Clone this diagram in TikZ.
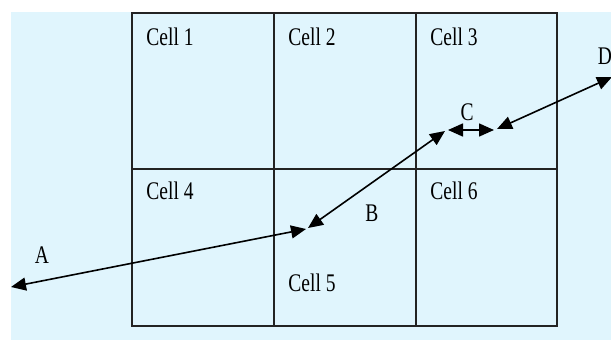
\documentclass[tikz,border=0pt]{standalone}
\usepackage{fontspec}
\setmainfont{Liberation Serif}
\usepackage{graphicx}
\usetikzlibrary{arrows.meta}
\definecolor{bgblue}{RGB}{224,245,253}
\definecolor{gridc}{RGB}{35,35,35}
\newcommand{\tallt}[1]{\scalebox{1}[1.3]{#1}}
\tikzset{
  lbl/.style={inner sep=0pt, font=\fontsize{19.5}{20}\selectfont},
  dbl/.style={line width=1.6pt, {Triangle[length=15pt,width=13pt]}-{Triangle[length=15pt,width=13pt]}},
  gridline/.style={draw=gridc, line width=1.8pt}
}
\begin{document}
\begin{tikzpicture}[x=1pt,y=-1pt]
\useasboundingbox (0,0) rectangle (611,340);
\fill[bgblue] (11,12) rectangle (611,340);
\draw[gridline] (132,13) rectangle (557,326);
\draw[gridline] (274,13) -- (274,326);
\draw[gridline] (416,13) -- (416,326);
\draw[gridline] (132,169) -- (557,169);
\node[lbl] (c1) at (170,37) {\tallt{Cell 1}};
\node[lbl] (c2) at (312,37) {\tallt{Cell 2}};
\node[lbl] (c3) at (454,37) {\tallt{Cell 3}};
\node[lbl] (c4) at (170,191) {\tallt{Cell 4}};
\node[lbl] (c5) at (312,283) {\tallt{Cell 5}};
\node[lbl] (c6) at (454,191) {\tallt{Cell 6}};
\node[lbl] (la) at (42,255) {\tallt{A}};
\node[lbl] (lb) at (372,213) {\tallt{B}};
\node[lbl] (lc) at (467,112) {\tallt{C}};
\node[lbl] (ld) at (605,56) {\tallt{D}};
\coordinate (a1) at (11,287);
\coordinate (a2) at (306,229);
\coordinate (b1) at (308,228);
\coordinate (b2) at (445,131);
\coordinate (cc1) at (448,130);
\coordinate (cc2) at (494,130);
\coordinate (d1) at (497,129);
\coordinate (d2) at (612,77);
\draw[dbl] (a1) -- (a2);
\draw[dbl] (b1) -- (b2);
\draw[dbl] (cc1) -- (cc2);
\draw[dbl] (d1) -- (d2);
\end{tikzpicture}
\end{document}
